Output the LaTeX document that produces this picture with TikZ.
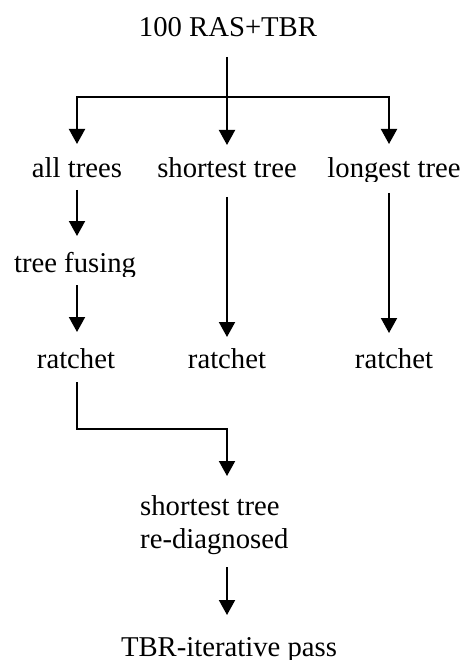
\documentclass[tikz,border=0pt]{standalone}
\usepackage{fontspec}
\setmainfont{Liberation Serif}
\usetikzlibrary{arrows.meta}
\begin{document}
\begin{tikzpicture}[x=1pt,y=-1pt,
  lbl/.style={anchor=base,inner sep=0pt,font=\fontsize{28.7}{33}\selectfont},
  conn/.style={line width=2pt},
  arr/.style={conn,-{Triangle[width=16pt,length=15pt]}}]
\useasboundingbox (0,0) rectangle (469,660);
% text nodes
\node[lbl] (title) at (228,37) {100 RAS+TBR};
\node[lbl] (all) at (77,178) {all trees};
\node[lbl] (short) at (227,178) {shortest tree};
\begin{scope}
  \clip (300,150) rectangle (469,181.7);
  \node[lbl] (long) at (394,178) {longest tree};
\end{scope}
\begin{scope}
  \clip (0,240) rectangle (200,276);
  \node[lbl] (fuse) at (75,272) {tree fusing};
\end{scope}
\node[lbl] (r1) at (76,368) {ratchet};
\node[lbl] (r2) at (227,368) {ratchet};
\node[lbl] (r3) at (394,368) {ratchet};
\node[lbl,anchor=north west,align=left] (diag) at (140,495.5) {shortest tree\\re-diagnosed};
\node[lbl] (tbr) at (229,656) {TBR-iterative pass};
% junctions
\coordinate (bar) at (227,97);
\coordinate (elbow) at (227,429);
\coordinate (dtip) at (227,476);
\coordinate (dsrc) at (227,567);
% connectors
\draw[arr] ([xshift=-1pt,yshift=-20pt]title.base) -- ([yshift=33pt]short.base);
\draw[arr] (bar) -| ([yshift=34pt]all.base);
\draw[arr] (bar) -| ([xshift=-5pt,yshift=34pt]long.base);
\draw[arr] ([yshift=-12pt]all.base) -- ([yshift=36pt]all.base |- fuse.base);
\draw[arr] ([yshift=-13pt]all.base |- fuse.base) -- ([yshift=36pt]all.base |- r1.base);
\draw[arr] ([yshift=-19pt]short.base) -- ([yshift=31pt]r2.base);
\draw[arr] ([xshift=-5pt,yshift=-15pt]long.base) -- ([xshift=-5pt,yshift=35pt]r3.base);
\draw[arr] ([yshift=-14pt]all.base |- r1.base) |- (elbow) -- (dtip);
\draw[arr] (dsrc) -- ([xshift=-2pt,yshift=41pt]tbr.base);
\end{tikzpicture}
\end{document}
